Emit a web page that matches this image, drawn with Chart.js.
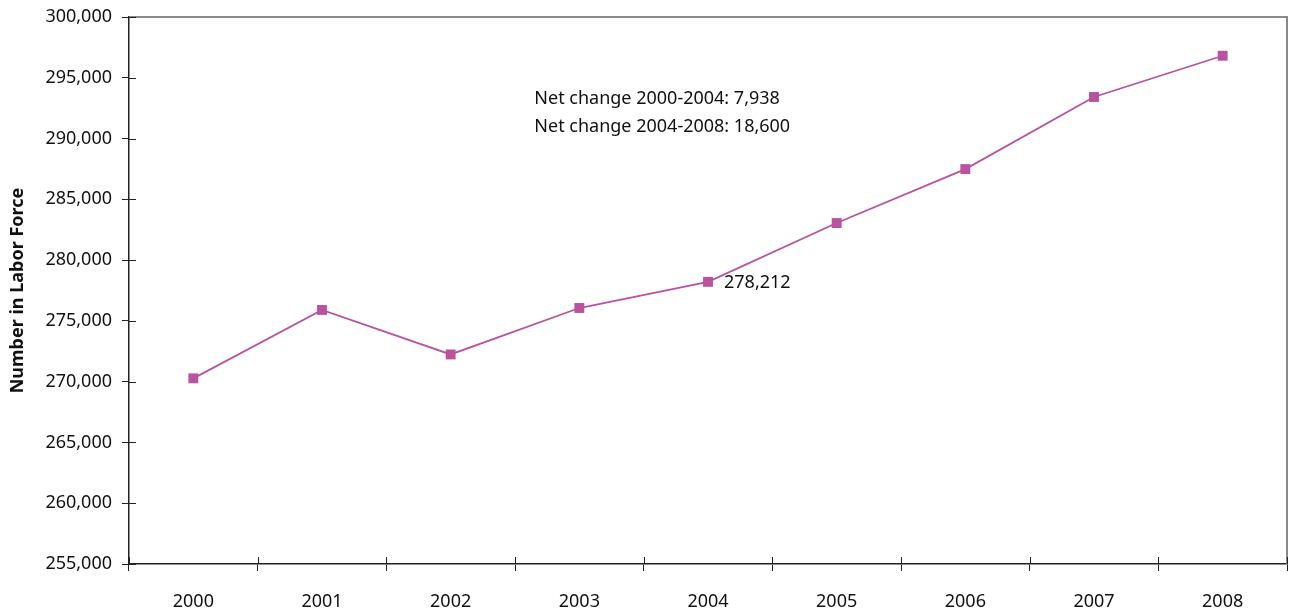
<!DOCTYPE html>
<html>
<head>
<meta charset="utf-8">
<script src="https://cdn.jsdelivr.net/npm/chart.js@4.4.0/dist/chart.umd.min.js"></script>
<style>
  html, body { margin: 0; padding: 0; background: #fff; }
  #wrap { width: 1294px; height: 610px; position: relative; }
</style>
</head>
<body>
<div id="wrap"><canvas id="labor"></canvas></div>
<script>
const years = ['2000', '2001', '2002', '2003', '2004', '2005', '2006', '2007', '2008'];
const laborForce = [270274, 275900, 272240, 276060, 278212, 283050, 287490, 293420, 296812];
const notes = ['Net change 2000-2004: 7,938', 'Net change 2004-2008: 18,600'];
const labelledYear = 4; // 2004 gets its value printed

const PINK = '#b9529f';
const FONT = '"Noto Sans", "Open Sans", sans-serif';

// the scales shouldn't reserve room for overhanging tick labels
function noOverhang(s) {
    s.paddingTop = 0;
    s.paddingBottom = 0;
    s.paddingLeft = 0;
    s.paddingRight = 0;
}

// gray frame on top/right, tick marks crossing the axes, and the text notes
const extras = {
    id: 'extras',
    beforeDatasetsDraw(chart) {
        const ctx = chart.ctx;
        const area = chart.chartArea;
        ctx.save();
        ctx.strokeStyle = '#888';
        ctx.lineWidth = 2;
        ctx.beginPath();
        ctx.moveTo(area.left, area.top);
        ctx.lineTo(area.right, area.top);
        ctx.lineTo(area.right, area.bottom);
        ctx.stroke();
        ctx.restore();
    },
    afterDraw(chart) {
        const ctx = chart.ctx;
        const x = chart.scales.x, y = chart.scales.y;
        const area = chart.chartArea;
        ctx.save();
        ctx.strokeStyle = '#222';
        ctx.lineWidth = 1;
        // inner halves of the y ticks
        y.ticks.forEach((t, i) => {
            const py = Math.round(y.getPixelForTick(i)) + 0.5;
            ctx.beginPath();
            ctx.moveTo(area.left, py);
            ctx.lineTo(area.left + 7, py);
            ctx.stroke();
        });
        // inner halves of the x ticks, sitting between categories
        for (let i = 0; i <= years.length; i++) {
            const px = Math.round(x.getPixelForValue(i - 0.5)) + 0.5;
            ctx.beginPath();
            ctx.moveTo(px, area.bottom);
            ctx.lineTo(px, area.bottom - 7);
            ctx.stroke();
        }

        ctx.fillStyle = '#111';
        ctx.font = '18px ' + FONT;
        ctx.textBaseline = 'middle';
        ctx.textAlign = 'left';
        const meta = chart.getDatasetMeta(0);
        const pt = meta.data[labelledYear];
        ctx.fillText(laborForce[labelledYear].toLocaleString('en-US'), pt.x + 16, pt.y + 1);

        const nx = x.getPixelForValue(2.65);
        ctx.fillText(notes[0], nx, y.getPixelForValue(293300));
        ctx.fillText(notes[1], nx, y.getPixelForValue(290920));
        ctx.restore();
    }
};

new Chart(document.getElementById('labor'), {
    type: 'line',
    data: {
        labels: years,
        datasets: [{
            data: laborForce,
            borderColor: PINK,
            backgroundColor: PINK,
            borderWidth: 1.8,
            pointStyle: 'rect',
            pointRadius: 7,
            pointBorderWidth: 0,
            tension: 0
        }]
    },
    options: {
        responsive: true,
        maintainAspectRatio: false,
        animation: false,
        layout: { padding: { top: 17, right: 3, left: 0, bottom: 0 } },
        plugins: {
            legend: { display: false },
            tooltip: { enabled: false }
        },
        scales: {
            x: {
                offset: true,
                grid: {
                    offset: true,
                    drawOnChartArea: false,
                    color: '#222',
                    tickLength: 7
                },
                border: { color: '#222', width: 1.5 },
                ticks: {
                    color: '#111',
                    font: { family: FONT, size: 18 },
                    padding: 20,
                    maxRotation: 0
                },
                afterFit(s) { s.height = 46; noOverhang(s); }
            },
            y: {
                min: 255000,
                max: 300000,
                grid: {
                    drawOnChartArea: false,
                    color: '#222',
                    tickLength: 7
                },
                border: { color: '#222', width: 1.5 },
                ticks: {
                    stepSize: 5000,
                    color: '#111',
                    font: { family: FONT, size: 18 },
                    padding: 10,
                    callback: v => v.toLocaleString('en-US')
                },
                title: {
                    display: true,
                    text: 'Number in Labor Force',
                    color: '#111',
                    font: { family: FONT, size: 18, weight: 'bold' },
                    padding: { top: 7, bottom: 0 }
                },
                afterFit(s) { s.width = 129; noOverhang(s); }
            }
        }
    },
    plugins: [extras]
});
</script>
</body>
</html>
